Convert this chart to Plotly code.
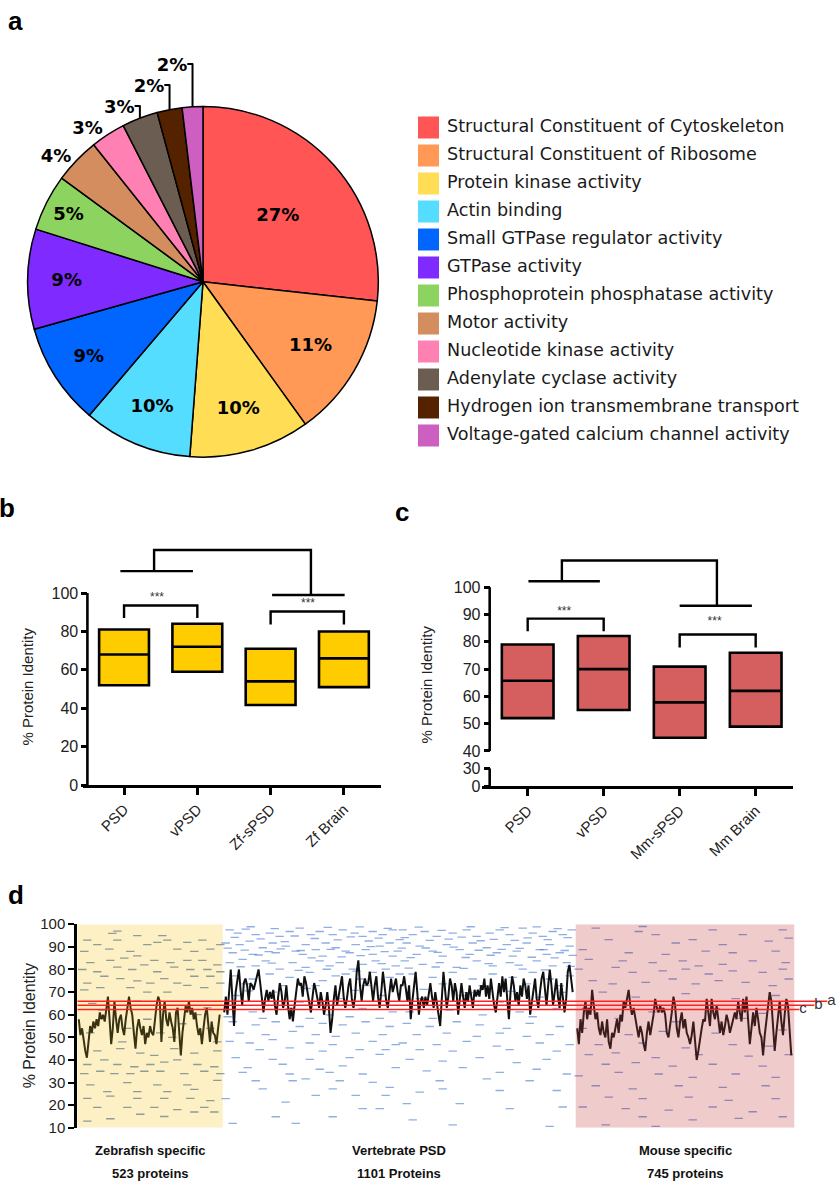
import plotly.graph_objects as go
import numpy as np

W, H = 840, 1190
def fx(p):
    return p / W
def fy(p):
    return 1 - p / H

ARIAL = "Liberation Sans, Arial, sans-serif"
DEJAVU = "DejaVu Sans, sans-serif"

# ---------------- panel a : GO molecular function pie ----------------
go_terms = ["Structural Constituent of Cytoskeleton", "Structural Constituent of Ribosome",
            "Protein kinase activity", "Actin binding", "Small GTPase regulator activity",
            "GTPase activity", "Phosphoprotein phosphatase activity", "Motor activity",
            "Nucleotide kinase activity", "Adenylate cyclase activity",
            "Hydrogen ion transmembrane transport", "Voltage-gated calcium channel activity"]
go_share = [26.7, 13.3, 11.1, 10.0, 9.4, 9.2, 5.2, 4.2, 3.2, 3.3, 2.3, 1.9]
go_pct_labels = ["27%", "11%", "10%", "10%", "9%", "9%", "5%", "4%", "3%", "3%", "2%", "2%"]
go_colors = ["#ff5555", "#ff9955", "#ffdd55", "#55ddff", "#0066ff", "#7f2aff",
             "#8dd35f", "#d38d5f", "#ff80b2", "#6c5d53", "#552200", "#cc5fbf"]
go_label_side = ["inside"] * 7 + ["outside"] * 5

# ---------------- panel b : zebrafish identity boxes ----------------
b_groups = ["PSD", "vPSD", "Zf-sPSD", "Zf Brain"]
b_q1 = [52, 59, 41.7, 51]
b_med = [68, 72, 54, 66]
b_q3 = [81, 84, 71, 80]
# significance brackets: (x_left, x_right, y_top, y_leg_end)
b_pair_brackets = [(0, 1, 93.5, 87.0), (2, 3, 90.4, 83.6)]
b_group_lines = [(-0.05, 0.94, 111.4), (2.02, 3.01, 99.0)]
b_top_bracket = (0.41, 2.55, 122.4)
b_stars = [(0.45, 97.4), (2.51, 94.4), (1.40, 125.6)]

# ---------------- panel c : mouse identity boxes ----------------
c_groups = ["PSD", "vPSD", "Mm-sPSD", "Mm Brain"]
c_q1 = [52, 55, 44.8, 48.9]
c_med = [65.7, 70, 57.8, 62]
c_q3 = [79, 82.1, 70.9, 76]
c_pair_brackets = [(0, 1, 88.5, 83.9), (2, 3, 82.7, 77.9)]
c_group_lines = [(0.01, 0.95, 102.2), (2.0, 2.95, 93.2)]
c_top_bracket = (0.45, 2.49, 109.8)
c_stars = [(0.48, 90.8), (2.46, 87.1), (1.38, 112.4)]

# ---------------- panel d : running identity ----------------
region_names = ["Zebrafish specific", "Vertebrate PSD", "Mouse specific"]
region_counts = ["523 proteins", "1101 Proteins", "745 proteins"]
region_bounds = [0, 145.4, 498.4, 717]

zf_line = [58, 51, 54, 48, 44, 41, 50, 55, 52, 57, 54, 58, 55, 61, 58, 60, 57, 63, 68, 58, 47, 54,
           66, 58, 52, 58, 60, 54, 51, 58, 64, 68, 63, 60, 52, 45, 54, 58, 54, 51, 55, 47, 52, 50,
           55, 52, 51, 58, 64, 68, 66, 48, 60, 66, 58, 55, 61, 57, 54, 48, 61, 63, 54, 42, 52, 58,
           64, 61, 66, 60, 63, 58, 61, 55, 51, 54, 47, 54, 60, 63, 54, 48, 57, 52, 51, 47, 54, 60]
vpsd_line = [61, 68, 60, 73, 80, 67, 55, 70, 76, 80, 71, 64, 74, 76, 73, 66, 74, 73, 71, 74, 77, 80,
             74, 68, 61, 67, 71, 66, 70, 67, 71, 64, 60, 68, 74, 70, 63, 66, 73, 64, 58, 63, 57, 64,
             70, 76, 73, 74, 68, 77, 74, 70, 66, 61, 68, 74, 71, 67, 63, 70, 66, 60, 64, 70, 63, 52,
             58, 67, 73, 64, 68, 73, 77, 68, 63, 67, 73, 76, 67, 63, 68, 79, 84, 73, 66, 73, 76, 73,
             74, 79, 71, 66, 73, 77, 68, 63, 70, 79, 73, 66, 63, 71, 76, 70, 73, 76, 70, 66, 73,
             73, 77, 70, 66, 73, 58, 66, 74, 79, 70, 60, 66, 68, 63, 68, 64, 70, 74, 68, 63, 70, 64,
             60, 55, 68, 79, 71, 63, 68, 76, 73, 66, 74, 70, 60, 68, 74, 68, 63, 70, 66, 73, 68, 63,
             71, 68, 71, 68, 73, 71, 76, 68, 73, 67, 76, 70, 64, 61, 68, 74, 68, 77, 70, 76, 67, 58,
             70, 77, 73, 66, 70, 64, 73, 68, 76, 73, 67, 73, 60, 66, 71, 76, 67, 63, 70, 76, 79, 70,
             64, 73, 80, 73, 64, 70, 76, 68, 63, 74, 67, 61, 67, 79, 82, 76, 70]
mm_line = [54, 47, 58, 52, 61, 66, 58, 63, 60, 71, 64, 58, 61, 54, 51, 57, 52, 50, 58, 48, 45, 52,
           50, 55, 58, 52, 60, 57, 66, 63, 67, 71, 64, 60, 63, 58, 54, 50, 55, 52, 47, 44, 52, 57,
           51, 55, 60, 67, 63, 61, 64, 61, 63, 60, 52, 50, 55, 61, 68, 64, 54, 50, 57, 61, 54, 58,
           52, 50, 47, 51, 57, 47, 40, 44, 50, 54, 58, 57, 67, 60, 55, 67, 61, 58, 64, 58, 52, 57,
           51, 55, 60, 57, 52, 55, 58, 61, 58, 66, 61, 57, 67, 61, 68, 58, 47, 54, 61, 55, 63, 58,
           52, 50, 42, 51, 58, 63, 70, 66, 57, 44, 52, 60, 66, 57, 51, 60, 67, 64, 54, 42]

# individual proteins: (position within region, % identity)
zf_dashes = [(35, 96), (40, 97), (10, 93), (20, 91), (40, 93), (60, 95), (85, 95), (90, 93), (110, 92),
             (125, 93), (143, 91), (7, 88), (32, 89), (53, 88), (70, 91), (80, 92), (100, 89), (117, 88),
             (133, 89), (13, 83), (33, 84), (47, 85), (60, 86), (77, 84), (93, 83), (110, 84), (125, 84),
             (140, 82), (5, 80), (20, 79), (40, 81), (55, 80), (67, 82), (80, 79), (97, 81), (113, 80),
             (130, 80), (143, 79), (10, 74), (27, 77), (43, 76), (60, 75), (73, 74), (87, 76), (100, 74),
             (117, 77), (133, 77), (7, 71), (23, 72), (53, 72), (70, 70), (90, 70), (110, 73), (127, 72),
             (143, 74), (13, 52), (50, 54), (83, 52), (133, 54), (20, 44), (43, 45), (63, 43), (77, 42),
             (97, 45), (117, 43), (140, 44), (10, 38), (27, 40), (40, 38), (57, 37), (73, 38), (87, 39),
             (100, 40), (120, 38), (137, 37), (7, 34), (23, 35), (37, 34), (53, 34), (67, 35), (83, 35),
             (107, 34), (127, 35), (143, 34), (13, 29), (50, 30), (80, 29), (110, 29), (140, 31), (30, 26),
             (60, 26), (90, 26), (117, 27), (10, 23), (33, 24), (60, 23), (87, 23), (113, 23), (133, 22),
             (20, 19), (50, 19), (77, 19), (100, 18), (127, 19), (33, 14), (63, 16), (87, 15), (10, 13),
             (117, 17), (137, 17), (25, 62), (45, 48), (70, 58), (95, 50), (120, 60), (140, 48), (15, 65),
             (60, 66), (105, 56), (130, 63)]
vpsd_dashes = [(7, 97.5), (15, 96.1), (23, 97.8), (33, 95.4), (47, 96.1), (57, 94.6), (67, 96.8), (77, 98.3),
               (88, 95.4), (97, 96.8), (110, 95.4), (120, 97.5), (132, 96.1), (140, 94.6), (150, 96.8),
               (160, 95.4), (170, 97.5), (177, 93.2), (3, 91.7), (17, 91), (27, 92.5), (40, 89.6), (50, 91.7),
               (63, 90.3), (73, 88.1), (83, 91), (93, 88.8), (103, 91.7), (113, 89.6), (123, 88.1), (133, 91),
               (143, 88.8), (157, 90.3), (167, 91.7), (175, 88.1), (10, 87.4), (30, 86.7), (53, 87.4),
               (80, 86.7), (100, 85.9), (127, 87.4), (150, 86.7), (170, 85.9), (7, 83), (20, 84.5), (33, 81.6),
               (43, 83.8), (57, 80.2), (70, 83), (83, 80.9), (97, 83.8), (107, 81.6), (117, 83), (130, 80.2),
               (140, 82.3), (153, 83.8), (163, 80.2), (173, 81.6), (13, 77.2), (30, 75.8), (47, 78),
               (67, 76.5), (87, 78.7), (100, 75.1), (113, 77.2), (123, 78), (137, 75.8), (150, 78.7),
               (167, 76.5), (177, 78), (23, 73.6), (60, 72.9), (93, 72.9), (143, 72.9), (13, 68.5), (50, 70),
               (77, 65.6), (117, 67.1), (160, 68.5), (30, 61.3), (67, 62.8), (107, 59.9), (140, 62.8),
               (170, 61.3), (5, 59.1), (40, 58.4), (87, 58.4), (127, 59.1), (157, 58.4), (10, 56.9),
               (33, 55.5), (53, 56.9), (77, 54.8), (100, 56.2), (120, 55.5), (143, 56.9), (167, 54.8),
               (17, 51.9), (43, 51.2), (70, 52.6), (93, 51.2), (113, 50.4), (133, 51.9), (160, 51.2),
               (7, 48.2), (27, 47.5), (50, 49), (87, 47.5), (110, 46.8), (150, 48.2), (173, 46.8),
               (37, 44.6), (67, 45.3), (100, 43.9), (137, 44.6), (163, 44.6), (13, 41), (50, 40.3),
               (87, 40.3), (127, 41), (157, 42.5), (25, 36.6), (60, 38.1), (97, 35.9), (120, 37.4),
               (173, 36.6), (20, 34.5), (67, 33.8), (107, 34.5), (140, 33.8), (33, 30.8), (83, 31.6),
               (117, 30.8), (150, 30.1), (70, 30.8), (40, 27.2), (110, 27.2), (167, 27.9), (3, 22.9),
               (93, 24.3), (133, 24.3), (63, 21.4), (163, 24.3), (140, 18.5), (157, 18.5), (53, 14.9),
               (10, 12), (73, 12), (110, 14.9),
               (180, 97.5), (190, 95.4), (202, 96.8), (214, 94.6), (230, 96.1), (244, 97.5), (254, 94.6),
               (267, 96.1), (277, 97.5), (287, 95.4), (300, 98.3), (310, 96.1), (320, 94.6), (330, 96.8),
               (340, 95.4), (349, 97.5), (184, 91.7), (197, 90.3), (210, 88.1), (224, 91), (237, 88.8),
               (250, 91.7), (264, 89.6), (274, 87.4), (284, 91), (294, 88.1), (304, 91.7), (317, 88.8),
               (327, 91), (337, 87.4), (347, 90.3), (194, 86.7), (220, 85.9), (247, 86.7), (290, 85.9),
               (324, 86.7), (182, 83.8), (200, 82.3), (217, 83), (234, 80.9), (254, 83.8), (270, 81.6),
               (287, 83), (300, 80.2), (314, 83.8), (330, 81.6), (344, 83), (190, 78), (210, 76.5),
               (230, 78.7), (250, 75.8), (270, 78), (290, 76.5), (310, 78.7), (327, 75.8), (347, 77.2),
               (220, 73.6), (260, 72.9), (304, 73.6), (337, 72.9), (197, 67.1), (240, 68.5), (277, 65.6),
               (317, 67.8), (187, 61.3), (227, 62), (260, 59.9), (297, 61.3), (334, 62.8), (210, 58.4),
               (310, 59.1), (184, 56.2), (207, 54.8), (234, 56.9), (257, 55.5), (284, 54), (307, 56.2),
               (337, 54.8), (194, 51.2), (224, 51.9), (254, 50.4), (277, 51.9), (304, 50.4), (327, 51.2),
               (180, 47.5), (214, 46.8), (244, 48.2), (274, 46.1), (317, 47.5), (347, 46.8), (197, 44.6),
               (230, 43.9), (287, 44.6), (334, 43.9), (187, 40.3), (220, 39.5), (257, 41), (294, 38.8),
               (324, 40.3), (204, 35.2), (240, 36.6), (277, 34.5), (314, 35.9), (344, 33.8), (217, 30.8),
               (264, 31.6), (307, 30.8), (197, 25.8), (220, 27.2), (277, 26.5), (334, 26.5), (184, 20.7),
               (237, 20.7), (287, 18.5), (340, 19.2), (190, 13.5), (230, 11.3), (327, 10.6),
               (12, 94.2), (28, 98.9), (38, 93.5), (52, 98.1), (62, 92.3), (72, 94.8), (92, 93.7), (105, 98.6),
               (115, 93.1), (128, 94.4), (137, 98.8), (146, 92.6), (156, 93.9), (165, 98.2), (182, 94.1),
               (196, 98.7), (207, 92.9), (219, 97.3), (226, 93.4), (239, 94.3), (248, 98.9), (258, 92.7),
               (271, 93.3), (282, 98.5), (292, 92.9), (305, 94), (314, 98.8), (325, 93.2), (335, 98.1),
               (345, 94.1), (5, 89.4), (22, 88.6), (36, 86.4), (46, 87.9), (58, 89.1), (78, 88.4), (89, 85.1),
               (108, 88.9), (119, 85.6), (138, 86.1), (148, 90.1), (162, 87.9), (179, 89.4), (188, 85.2),
               (203, 89.5), (215, 87.6), (231, 89.9), (243, 85.3), (256, 88.5), (268, 86.3), (279, 88.9),
               (297, 89.3), (309, 85.4), (321, 88.8), (332, 85.1), (342, 88.4), (350, 86.2), (18, 81.2),
               (49, 82.8), (76, 79.6), (104, 80.1), (134, 79.3), (159, 82.6), (186, 80.6), (213, 81.1),
               (241, 80.5), (266, 82.6), (296, 81.9), (322, 79.8), (348, 81.4), (26, 70.5), (84, 71.6),
               (132, 70.8), (201, 71.2), (246, 69.8), (289, 70.3), (340, 69.9)]
mm_dashes = [(67, 99), (63, 96.8), (80, 95.4), (20, 98.3), (137, 97.5), (167, 95.4), (207, 97.5), (33, 93.2),
             (100, 91.7), (117, 93.2), (147, 91), (193, 92.5), (213, 93.9), (7, 88.8), (53, 87.4), (90, 86.7),
             (130, 88.1), (157, 87.4), (200, 88.1), (13, 84.5), (47, 83.8), (77, 83), (107, 83.8), (123, 81.6),
             (147, 82.3), (177, 83.8), (210, 83), (3, 80.2), (40, 80.9), (57, 78.7), (87, 79.4), (110, 80.2),
             (133, 78), (157, 79.4), (187, 78.7), (207, 80.2), (17, 75.1), (37, 73.6), (70, 74.3), (97, 75.8),
             (120, 73.6), (143, 75.1), (170, 74.3), (197, 72.9), (213, 75.8), (27, 70), (60, 67.8), (110, 69.3),
             (160, 67.1), (200, 68.5), (10, 62.8), (77, 61.3), (140, 62.8), (187, 60.6), (43, 58.4),
             (100, 56.9), (167, 58.4), (7, 54), (53, 51.2), (87, 52.6), (140, 51.9), (207, 53.3), (23, 46.8),
             (67, 47.5), (110, 45.3), (157, 46.8), (193, 46.1), (13, 42.4), (40, 43.1), (80, 41), (123, 42.4),
             (173, 41.7), (213, 42.4), (30, 38.1), (60, 38.8), (97, 37.3), (137, 38.1), (187, 37.3), (3, 33),
             (43, 34.5), (83, 33.8), (117, 32.3), (160, 33.8), (200, 32.3), (20, 28.6), (57, 27.2), (103, 28.6),
             (147, 27.9), (190, 28.6), (33, 23.6), (67, 22.9), (113, 23.6), (153, 22.1), (200, 22.9), (7, 19.2),
             (50, 18.5), (93, 17.8), (137, 19.2), (177, 17.1), (67, 14.9), (117, 13.5), (163, 14.2),
             (207, 14.9), (30, 11.3), (80, 10.6)]

ref_names = ["a", "b", "c"]
ref_levels = [65.9, 64.2, 62.3]
ref_ends = [750, 737, 722]

# =====================================================================
fig = go.Figure()

# ---- panel a pie
fig.add_trace(go.Pie(
    values=go_share, labels=go_terms, text=go_pct_labels, textinfo="text",
    texttemplate="<b>%{text}</b>", textposition=go_label_side, sort=False,
    direction="clockwise", rotation=0, insidetextorientation="horizontal",
    marker=dict(colors=go_colors, line=dict(color="black", width=1.5)),
    textfont=dict(family=DEJAVU, size=18, color="black"),
    domain=dict(x=[fx(25), fx(381)], y=[fy(455), fy(99)]),
    showlegend=False, hoverinfo="label+percent"))

# legend drawn as swatches + labels
fig.add_trace(go.Scatter(
    x=[10] * len(go_terms), y=list(range(len(go_terms))), mode="markers",
    marker=dict(symbol="square", size=22, color=go_colors, line=dict(width=0)),
    xaxis="x5", yaxis="y5", showlegend=False, hoverinfo="skip"))
fig.add_trace(go.Scatter(
    x=[29] * len(go_terms), y=list(range(len(go_terms))), mode="text", text=go_terms,
    textposition="middle right", textfont=dict(family=DEJAVU, size=17.6, color="#1a1a1a"),
    xaxis="x5", yaxis="y5", showlegend=False, hoverinfo="skip", cliponaxis=False))


def bracket_paths(pairs, group_lines, top):
    xs, ys = [], []
    for x0, x1, yt, yl in pairs:
        xs += [x0, x0, x1, x1, None]
        ys += [yl, yt, yt, yl, None]
    for x0, x1, yy in group_lines:
        xs += [x0, x1, None]
        ys += [yy, yy, None]
    x0, x1, yt = top
    xs += [x0, x0, x1, x1, None]
    ys += [group_lines[0][2], yt, yt, group_lines[1][2], None]
    return xs, ys


def box_panel(groups, q1, med, q3, fill, xa, ya, pairs, glines, top, stars, y_axis_span):
    pos = list(range(len(groups)))
    fig.add_trace(go.Box(
        x=pos, q1=q1, median=med, q3=q3, lowerfence=q1, upperfence=q3, width=0.68,
        fillcolor=fill, line=dict(color="black", width=2.6), whiskerwidth=0,
        boxpoints=False, xaxis=xa, yaxis=ya, showlegend=False, hoverinfo="y"))
    bx, by = bracket_paths(pairs, glines, top)
    fig.add_trace(go.Scatter(x=bx, y=by, mode="lines", line=dict(color="black", width=2.4),
                             xaxis=xa, yaxis=ya, showlegend=False, hoverinfo="skip"))
    fig.add_trace(go.Scatter(x=[s[0] for s in stars], y=[s[1] for s in stars], mode="text",
                             text=["***"] * len(stars), textposition="middle center",
                             textfont=dict(family=ARIAL, size=12, color="#333"),
                             xaxis=xa, yaxis=ya, showlegend=False, hoverinfo="skip",
                             cliponaxis=False))
    fig.add_trace(go.Scatter(x=[-0.5, -0.5], y=y_axis_span, mode="lines",
                             line=dict(color="black", width=2.6), xaxis=xa, yaxis=ya,
                             showlegend=False, hoverinfo="skip"))


# ---- panel b
box_panel(b_groups, b_q1, b_med, b_q3, "#ffcc00", "x", "y",
          b_pair_brackets, b_group_lines, b_top_bracket, b_stars, [0, 100])
# ---- panel c
box_panel(c_groups, c_q1, c_med, c_q3, "#d55e5e", "x2", "y2",
          c_pair_brackets, c_group_lines, c_top_bracket, c_stars, [40, 100])
fig.add_trace(go.Scatter(x=[-0.5, -0.5], y=[0, 30], mode="lines",
                         line=dict(color="black", width=2.6), xaxis="x2", yaxis="y3",
                         showlegend=False, hoverinfo="skip"))

# ---- panel d
dash_colors = ["rgba(95,120,135,0.7)", "rgba(75,125,210,0.62)", "rgba(95,95,170,0.65)"]
line_colors = ["#3a3312", "#101010", "#3a1c1c"]
for i, dashes in enumerate([zf_dashes, vpsd_dashes, mm_dashes]):
    start = region_bounds[i]
    fig.add_trace(go.Scatter(
        x=[start + d[0] for d in dashes], y=[d[1] for d in dashes], mode="markers",
        marker=dict(symbol="line-ew", size=6, line=dict(width=1.3, color=dash_colors[i])),
        xaxis="x4", yaxis="y4", showlegend=False, hoverinfo="skip"))
for i, series in enumerate([zf_line, vpsd_line, mm_line]):
    start, end = region_bounds[i], region_bounds[i + 1]
    xs = np.linspace(start + 1.5, end - 3, len(series))
    fig.add_trace(go.Scatter(x=xs, y=series, mode="lines",
                             line=dict(color=line_colors[i], width=2),
                             xaxis="x4", yaxis="y4", showlegend=False, hoverinfo="skip"))
for name, lvl, xend in zip(ref_names, ref_levels, ref_ends):
    fig.add_trace(go.Scatter(x=[0, xend], y=[lvl, lvl], mode="lines+text", text=["", name],
                             textposition="middle right",
                             textfont=dict(family=ARIAL, size=15, color="#333"),
                             line=dict(color="#ff2020", width=1.5), cliponaxis=False,
                             xaxis="x4", yaxis="y4", showlegend=False, hoverinfo="skip"))

# ---------------- layout ----------------
tick_font = dict(family=ARIAL, size=16, color="#222")
common_y = dict(showgrid=False, zeroline=False, showline=False, ticks="outside", ticklen=6,
                tickwidth=2.5, tickcolor="black", tickfont=tick_font)
common_x = dict(showgrid=False, zeroline=False, showline=True, linecolor="black", linewidth=2.6,
                ticks="outside", ticklen=7, tickwidth=2.6, tickcolor="black", tickangle=-45,
                tickfont=dict(family=ARIAL, size=15, color="#222"))

shapes = [
    dict(type="rect", xref="x4", yref="y4", x0=region_bounds[0], x1=region_bounds[1], y0=10, y1=100,
         fillcolor="#fcf0c4", line=dict(width=0), layer="below"),
    dict(type="rect", xref="x4", yref="y4", x0=region_bounds[2], x1=region_bounds[3], y0=10, y1=100,
         fillcolor="#f0cbcb", line=dict(width=0), layer="below"),
]

annotations = []
for lab, xx, yy in [("a", 15, 12), ("b", 7, 507), ("c", 402, 511), ("d", 16, 900)]:
    annotations.append(dict(text="<b>%s</b>" % lab, x=fx(xx), y=fy(yy), xref="paper", yref="paper",
                            xanchor="center", yanchor="middle", showarrow=False,
                            font=dict(family=ARIAL, size=26, color="black")))
for xx, yy, sz in [(28, 688, 15), (427, 686, 15), (29, 1033, 16)]:
    annotations.append(dict(text="% Protein Identity", x=fx(xx), y=fy(yy), xref="paper", yref="paper",
                            textangle=-90, showarrow=False, xanchor="center", yanchor="middle",
                            font=dict(family=ARIAL, size=sz, color="#222")))
for i in range(3):
    cx = (region_bounds[i] + region_bounds[i + 1]) / 2
    annotations.append(dict(text="<b>%s</b>" % region_names[i], x=cx, y=fy(1159), xref="x4",
                            yref="paper", showarrow=False, xanchor="center", yanchor="middle",
                            font=dict(family=ARIAL, size=13, color="#111")))
    annotations.append(dict(text="<b>%s</b>" % region_counts[i], x=cx, y=fy(1182), xref="x4",
                            yref="paper", showarrow=False, xanchor="center", yanchor="middle",
                            font=dict(family=ARIAL, size=13, color="#111")))

fig.update_layout(
    width=W, height=H, margin=dict(l=0, r=0, t=0, b=0, pad=0),
    paper_bgcolor="white", plot_bgcolor="rgba(0,0,0,0)", showlegend=False,
    boxmode="overlay",
    # panel b
    xaxis=dict(common_x, domain=[fx(83), fx(381)], range=[-0.56, 3.506], anchor="y",
               tickvals=list(range(4)), ticktext=b_groups),
    yaxis=dict(common_y, domain=[fy(788), fy(544.25)], range=[0, 125], anchor="free",
               position=fx(87.4), tickvals=[0, 20, 40, 60, 80, 100]),
    # panel c
    xaxis2=dict(common_x, domain=[fx(481.7), fx(793)], range=[-0.605, 3.491], anchor="y3",
                tickvals=list(range(4)), ticktext=c_groups),
    yaxis2=dict(common_y, domain=[fy(753.3), fy(553.9)], range=[40, 112], anchor="free",
                position=fx(489.7), tickvals=[40, 50, 60, 70, 80, 90, 100]),
    yaxis3=dict(common_y, domain=[fy(789.3), fy(771)], range=[0, 30], anchor="free",
                position=fx(489.7), tickvals=[0, 30]),
    # panel d
    xaxis4=dict(domain=[fx(77.3), fx(839.3)], range=[0, 762], visible=False, anchor="y4"),
    yaxis4=dict(domain=[fy(1136), fy(929.3)], range=[10, 100], anchor="x4", showgrid=False,
                zeroline=False, showline=True, linecolor="black", linewidth=3, ticks="outside",
                ticklen=6, tickwidth=2.2, tickcolor="black",
                tickvals=list(range(10, 101, 10)),
                tickfont=dict(family=ARIAL, size=15, color="#222")),
    # legend area for panel a
    xaxis5=dict(domain=[fx(418), fx(840)], range=[0, 422], visible=False, anchor="y5"),
    yaxis5=dict(domain=[fy(447.3), fy(106)], range=[11.5, -0.5], visible=False, anchor="x5"),
    shapes=shapes, annotations=annotations,
)

page_fix = """
(function(){
  var hs = document.documentElement.style; hs.margin='0'; hs.padding='0'; hs.overflow='hidden';
  var bs = document.body.style; bs.margin='0'; bs.padding='0'; bs.overflow='hidden';
  var gd = document.getElementById('{plot_id}');
  var w = window.innerWidth, h = window.innerHeight;
  if (w > 0 && h > 0 && (Math.abs(w - 840) > 1 || Math.abs(h - 1190) > 1)) {
    gd.style.width = w + 'px'; gd.style.height = h + 'px';
    Plotly.relayout(gd, {width: w, height: h});
  }
})();
"""
fig.write_html("out.html", config={"displayModeBar": False}, post_script=page_fix)
